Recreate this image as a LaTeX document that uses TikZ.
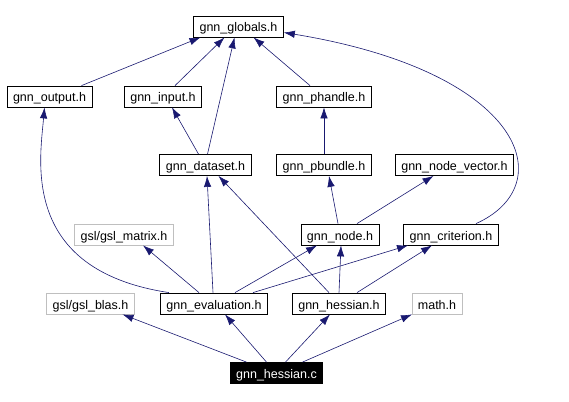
\documentclass[tikz,border=0pt]{standalone}
\usepackage{fontspec}
\setmainfont{Liberation Sans}
\usetikzlibrary{arrows.meta}
\definecolor{edgeblue}{HTML}{191970}
\definecolor{sysgray}{HTML}{BFBFBF}

\begin{document}
\begin{tikzpicture}[x=1pt, y=-1pt, >={Latex[length=11pt,width=7.5pt]},
  hdr/.style={draw, line width=0.8pt, inner xsep=6pt, inner ysep=0pt, minimum height=21pt,
    text height=11pt, text depth=0pt, font=\fontsize{12.5}{14}\selectfont},
  sys/.style={hdr, draw=sysgray},
  root/.style={hdr, fill=black, text=white},
  dep/.style={->, edgeblue, line width=0.6pt}]
\useasboundingbox (0,0) rectangle (569,401);
% headers
\node [hdr](glob) at (238.5,26.5){gnn\_globals.h};
\node [hdr](out) at (49.5,96.5){gnn\_output.h};
\node [hdr](inp) at (163,96.5){gnn\_input.h};
\node [hdr](phandle) at (324,96.5){gnn\_phandle.h};
\node [hdr](dataset) at (205.5,165){gnn\_dataset.h};
\node [hdr](pbundle) at (324,165){gnn\_pbundle.h};
\node [hdr](nodevec) at (454.5,165){gnn\_node\_vector.h};
\node [sys](matrix) at (124,234.5){gsl/gsl\_matrix.h};
\node [hdr](gnode) at (340,234.5){gnn\_node.h};
\node [hdr](crit) at (451,234.5){gnn\_criterion.h};
\node [sys](blas) at (90.5,303.5){gsl/gsl\_blas.h};
\node [hdr](eval) at (214,303.5){gnn\_evaluation.h};
\node [hdr](hessh) at (339,303.5){gnn\_hessian.h};
\node [sys](math) at (437,303.5){math.h};
\node [root](hessc) at (276.5,373){gnn\_hessian.c};
% includes
\draw [dep] ([xshift=32pt]out.north) -- ([xshift=-38pt]glob.south);
\draw [dep] ([xshift=12pt]inp.north) -- ([xshift=-14pt]glob.south);
\draw [dep] ([xshift=2pt]dataset.north) -- ([xshift=-4pt]glob.south);
\draw [dep] ([xshift=-14pt]phandle.north) -- ([xshift=15pt]glob.south);
\draw [dep] ([xshift=25pt]crit.north) .. controls (562,185) and (525,72) .. ([yshift=-6pt]glob.east);
\draw [dep] ([xshift=-7pt]dataset.north) -- ([xshift=9pt]inp.south);
\draw [dep] (pbundle.north) -- (phandle.south);
\draw [dep] ([xshift=-2pt]gnode.north) -- ([xshift=5pt]pbundle.south);
\draw [dep] ([xshift=17pt]gnode.north) -- ([xshift=-21pt]nodevec.south);
\draw [dep] ([xshift=-45pt]eval.north) .. controls (20,270) and (40,160) .. ([xshift=-5pt]out.south);
\draw [dep] ([xshift=-1pt]eval.north) -- ([xshift=1.5pt]dataset.south);
\draw [dep] ([xshift=-15pt]eval.north) -- ([xshift=19pt]matrix.south);
\draw [dep] ([xshift=21pt]eval.north) -- ([xshift=-23pt]gnode.south);
\draw [dep] ([xshift=39pt]eval.north) -- ([xshift=-43pt]crit.south);
\draw [dep] ([xshift=-10pt]hessh.north) -- ([xshift=13pt]dataset.south);
\draw [dep] (hessh.north) -- ([xshift=1pt]gnode.south);
\draw [dep] ([xshift=18pt]hessh.north) -- ([xshift=-19pt]crit.south);
\draw [dep] ([xshift=-30pt]hessc.north) -- ([xshift=32pt]blas.south);
\draw [dep] ([xshift=-10pt]hessc.north) -- ([xshift=11pt]eval.south);
\draw [dep] ([xshift=9pt]hessc.north) -- ([xshift=-9pt]hessh.south);
\draw [dep] ([xshift=26pt]hessc.north) -- ([xshift=-25pt]math.south);
\end{tikzpicture}
\end{document}
